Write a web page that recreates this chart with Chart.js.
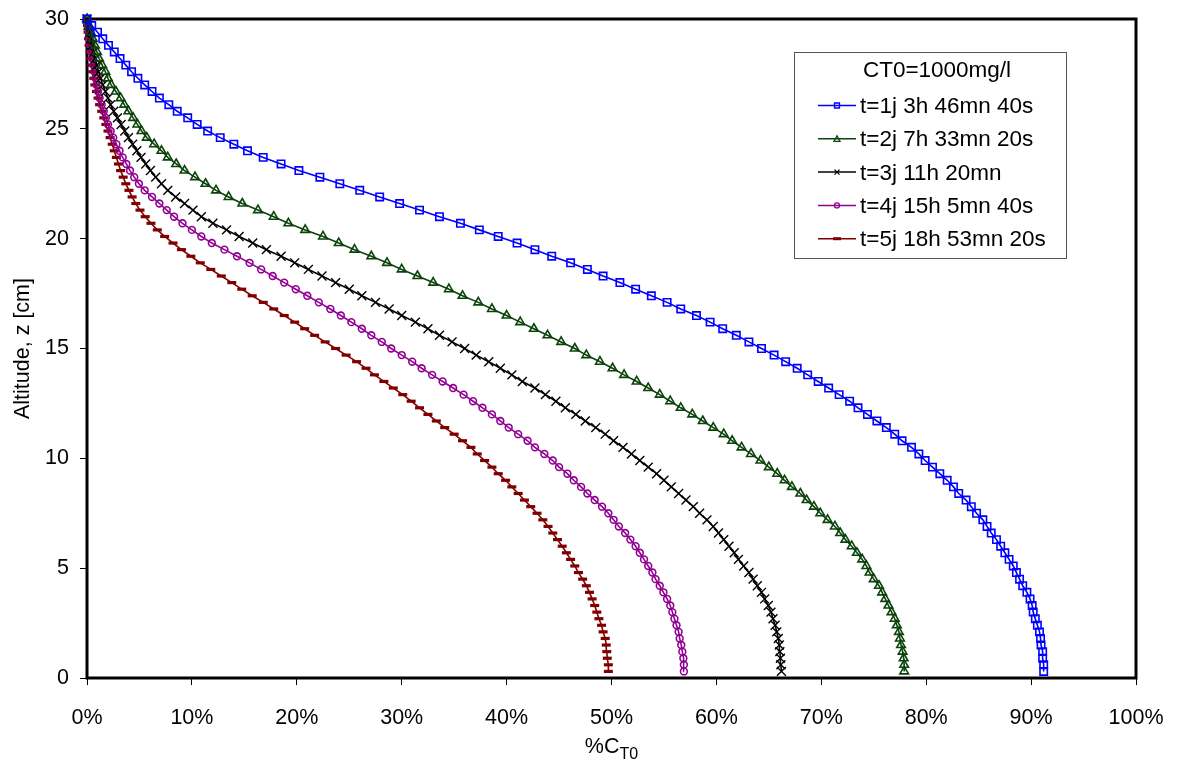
<!DOCTYPE html>
<html>
<head>
<meta charset="utf-8">
<script src="https://cdn.jsdelivr.net/npm/chart.js@4.4.1/dist/chart.umd.min.js"></script>
<style>
  html, body { margin: 0; padding: 0; background: #fff; }
</style>
</head>
<body>
<canvas id="chart" width="1178" height="773"></canvas>
<script>
// altitude z [cm] of each computed point (same grid for every curve)
const altitudes = [
  0.3, 0.6, 0.9, 1.2, 1.5, 1.8, 2.1, 2.4, 2.7, 3.0,
  3.3, 3.6, 3.9, 4.2, 4.5, 4.8, 5.1, 5.4, 5.7, 6.0,
  6.3, 6.6, 6.9, 7.2, 7.5, 7.8, 8.1, 8.4, 8.7, 9.0,
  9.3, 9.6, 9.9, 10.2, 10.5, 10.8, 11.1, 11.4, 11.7, 12.0,
  12.3, 12.6, 12.9, 13.2, 13.5, 13.8, 14.1, 14.4, 14.7, 15.0,
  15.3, 15.6, 15.9, 16.2, 16.5, 16.8, 17.1, 17.4, 17.7, 18.0,
  18.3, 18.6, 18.9, 19.2, 19.5, 19.8, 20.1, 20.4, 20.7, 21.0,
  21.3, 21.6, 21.9, 22.2, 22.5, 22.8, 23.1, 23.4, 23.7, 24.0,
  24.3, 24.6, 24.9, 25.2, 25.5, 25.8, 26.1, 26.4, 26.7, 27.0,
  27.3, 27.6, 27.9, 28.2, 28.5, 28.8, 29.1, 29.4, 29.7, 30.0
];

// %CT0 for each altitude above
const t1 = [
  91.2, 91.2, 91.1, 91.1, 90.95, 90.9, 90.8, 90.6, 90.4, 90.2,
  90.1, 89.9, 89.6, 89.2, 88.9, 88.6, 88.3, 87.9, 87.5, 87.1,
  86.7, 86.2, 85.8, 85.4, 84.8, 84.3, 83.8, 83.1, 82.6, 82.0,
  81.3, 80.6, 79.9, 79.3, 78.6, 77.7, 77.0, 76.2, 75.3, 74.4,
  73.5, 72.7, 71.7, 70.7, 69.7, 68.7, 67.7, 66.6, 65.5, 64.3,
  63.1, 61.9, 60.6, 59.4, 58.1, 56.6, 55.3, 53.8, 52.3, 50.8,
  49.2, 47.7, 46.1, 44.3, 42.7, 41.0, 39.2, 37.4, 35.6, 33.6,
  31.7, 29.8, 27.9, 26.0, 24.1, 22.2, 20.2, 18.5, 16.8, 15.3,
  14.0, 12.7, 11.5, 10.5, 9.6, 8.6, 7.8, 6.9, 6.2, 5.5,
  4.85, 4.25, 3.7, 3.15, 2.6, 2.05, 1.5, 1.0, 0.45, 0.0
];
const t2 = [
  77.9, 77.9, 77.85, 77.75, 77.6, 77.5, 77.4, 77.2, 77.0, 76.7,
  76.4, 76.1, 75.8, 75.5, 75.0, 74.6, 74.3, 73.9, 73.4, 72.9,
  72.3, 71.8, 71.3, 70.6, 69.9, 69.3, 68.6, 68.0, 67.2, 66.5,
  65.8, 65.0, 64.2, 63.3, 62.4, 61.5, 60.7, 59.7, 58.7, 57.7,
  56.6, 55.6, 54.6, 53.5, 52.4, 51.2, 50.1, 48.9, 47.6, 46.5,
  45.2, 43.9, 42.6, 41.3, 40.0, 38.6, 37.3, 35.8, 34.5, 33.0,
  31.5, 30.0, 28.6, 27.1, 25.5, 24.0, 22.5, 20.8, 19.2, 17.8,
  16.3, 14.8, 13.5, 12.3, 11.3, 10.3, 9.3, 8.5, 7.7, 7.1,
  6.4, 5.7, 5.2, 4.8, 4.4, 3.95, 3.55, 3.2, 2.75, 2.3,
  2.0, 1.75, 1.45, 1.15, 0.95, 0.75, 0.55, 0.35, 0.2, 0.0
];
const t3 = [
  66.2, 66.15, 66.1, 66.05, 66.0, 65.9, 65.75, 65.6, 65.4, 65.2,
  64.95, 64.6, 64.3, 63.9, 63.5, 63.1, 62.6, 62.1, 61.7, 61.2,
  60.7, 60.2, 59.7, 59.1, 58.4, 57.8, 57.1, 56.4, 55.7, 55.0,
  54.3, 53.5, 52.7, 51.9, 51.1, 50.2, 49.4, 48.5, 47.5, 46.6,
  45.6, 44.7, 43.7, 42.7, 41.5, 40.5, 39.4, 38.3, 37.1, 36.0,
  34.8, 33.6, 32.5, 31.3, 30.0, 28.8, 27.5, 26.2, 25.0, 23.7,
  22.4, 21.1, 19.8, 18.5, 17.1, 15.8, 14.5, 13.3, 12.0, 10.9,
  10.1, 9.3, 8.45, 7.7, 7.1, 6.55, 6.05, 5.6, 5.15, 4.75,
  4.35, 3.95, 3.6, 3.25, 2.9, 2.55, 2.25, 2.0, 1.75, 1.5,
  1.3, 1.1, 0.95, 0.8, 0.65, 0.5, 0.35, 0.25, 0.1, 0.0
];
const t4 = [
  56.9, 56.9, 56.85, 56.75, 56.65, 56.5, 56.4, 56.2, 56.0, 55.8,
  55.6, 55.3, 54.95, 54.6, 54.2, 53.9, 53.5, 53.1, 52.7, 52.3,
  51.8, 51.3, 50.7, 50.2, 49.7, 49.1, 48.4, 47.7, 47.1, 46.4,
  45.8, 45.0, 44.4, 43.6, 42.7, 42.0, 41.1, 40.2, 39.4, 38.6,
  37.7, 36.8, 35.9, 34.9, 33.9, 32.9, 31.9, 31.0, 30.0, 29.0,
  28.1, 27.1, 26.2, 25.2, 24.2, 23.2, 22.1, 21.0, 19.9, 18.8,
  17.7, 16.6, 15.5, 14.3, 13.1, 11.9, 10.9, 10.0, 9.1, 8.3,
  7.6, 6.9, 6.2, 5.5, 4.95, 4.5, 4.1, 3.75, 3.4, 3.1,
  2.8, 2.5, 2.25, 2.0, 1.8, 1.6, 1.4, 1.2, 1.05, 0.9,
  0.8, 0.7, 0.6, 0.5, 0.4, 0.3, 0.25, 0.15, 0.1, 0.0
];
const t5 = [
  49.7, 49.7, 49.6, 49.55, 49.5, 49.4, 49.2, 49.05, 48.8, 48.6,
  48.4, 48.15, 47.9, 47.6, 47.25, 46.85, 46.5, 46.1, 45.7, 45.3,
  44.85, 44.4, 43.95, 43.45, 42.9, 42.3, 41.7, 41.1, 40.5, 39.9,
  39.2, 38.6, 37.9, 37.2, 36.6, 35.8, 35.0, 34.1, 33.3, 32.5,
  31.7, 30.9, 30.1, 29.2, 28.3, 27.4, 26.6, 25.7, 24.7, 23.7,
  22.7, 21.7, 20.75, 19.8, 18.8, 17.8, 16.8, 15.75, 14.75, 13.8,
  12.8, 11.8, 10.8, 9.9, 9.0, 8.2, 7.4, 6.7, 6.1, 5.55,
  5.05, 4.65, 4.3, 4.0, 3.7, 3.45, 3.2, 3.0, 2.8, 2.6,
  2.4, 2.2, 2.0, 1.8, 1.6, 1.4, 1.2, 1.05, 0.9, 0.75,
  0.65, 0.55, 0.45, 0.35, 0.3, 0.2, 0.15, 0.1, 0.05, 0.0
];

const seriesLabels = [
  't=1j 3h 46mn 40s',
  't=2j 7h 33mn 20s',
  't=3j 11h 20mn',
  't=4j 15h 5mn 40s',
  't=5j 18h 53mn 20s'
];
const legendTitle = 'CT0=1000mg/l';
const xTitle = ['%C', 'T0'];
const yTitle = 'Altitude, z [cm]';

const FONT = '"Liberation Sans", Arial, Helvetica, sans-serif';
Chart.defaults.font.family = FONT;
Chart.defaults.color = '#000';

const looks = [
  { color: '#0000ff', point: 'rect', radius: 5.2, pw: 1.6 },
  { color: '#0b430b', point: 'triangle', radius: 5, pw: 1.6 },
  { color: '#000000', point: 'crossRot', radius: 6.3, pw: 1.4 },
  { color: '#920092', point: 'circle', radius: 3.4, pw: 1.6 },
  { color: '#800000', point: 'line', radius: 4.5, pw: 3.2 }
];

const allSeries = [t1, t2, t3, t4, t5];
const datasets = allSeries.map((vals, i) => ({
  label: seriesLabels[i],
  data: vals.map((v, k) => ({ x: v, y: altitudes[k] })),
  showLine: true,
  borderColor: looks[i].color,
  borderWidth: 1.6,
  backgroundColor: 'rgba(0,0,0,0)',
  pointStyle: looks[i].point,
  pointRadius: looks[i].radius,
  pointBorderWidth: looks[i].pw,
  pointBorderColor: looks[i].color,
  pointBackgroundColor: 'rgba(0,0,0,0)',
  tension: 0,
  clip: false
}));

// thick box round the plot, like the excel plot area border
const framePlugin = {
  id: 'frame',
  beforeDatasetsDraw(chart) {
    const { ctx, chartArea: a } = chart;
    ctx.save();
    ctx.strokeStyle = '#000';
    ctx.lineWidth = 3;
    ctx.strokeRect(a.left, a.top, a.right - a.left, a.bottom - a.top);
    ctx.restore();
  }
};

function legendMarker(ctx, style, x, y) {
  ctx.beginPath();
  if (style === 'rect') {
    ctx.rect(x - 2.5, y - 2.5, 5, 5);
  } else if (style === 'triangle') {
    ctx.moveTo(x, y - 3); ctx.lineTo(x + 3, y + 2.5); ctx.lineTo(x - 3, y + 2.5); ctx.closePath();
  } else if (style === 'crossRot') {
    ctx.moveTo(x - 2.5, y - 2.5); ctx.lineTo(x + 2.5, y + 2.5);
    ctx.moveTo(x + 2.5, y - 2.5); ctx.lineTo(x - 2.5, y + 2.5);
  } else if (style === 'circle') {
    ctx.arc(x, y, 2.5, 0, Math.PI * 2);
  } else if (style === 'line') {
    ctx.moveTo(x - 4, y); ctx.lineTo(x + 4, y);
  }
  ctx.stroke();
}

const legendPlugin = {
  id: 'boxLegend',
  afterDatasetsDraw(chart) {
    const ctx = chart.ctx;
    ctx.save();
    ctx.fillStyle = '#fff';
    ctx.fillRect(794, 52, 272, 206);
    ctx.strokeStyle = '#555';
    ctx.lineWidth = 1;
    ctx.strokeRect(794.5, 52.5, 272, 206);

    ctx.fillStyle = '#000';
    ctx.font = '22.5px ' + FONT;
    ctx.textBaseline = 'alphabetic';
    ctx.textAlign = 'center';
    ctx.fillText(legendTitle, 937, 77);

    ctx.textAlign = 'left';
    chart.data.datasets.forEach((ds, i) => {
      const base = 113 + i * 33.3;
      const ly = base - 7.5;
      ctx.strokeStyle = ds.borderColor;
      ctx.lineWidth = 1.5;
      ctx.beginPath();
      ctx.moveTo(818, ly);
      ctx.lineTo(856, ly);
      ctx.stroke();
      ctx.lineWidth = looks[i].point === 'line' ? 3 : 1.3;
      legendMarker(ctx, looks[i].point, 837, ly);
      ctx.fillStyle = '#000';
      ctx.fillText(ds.label, 860, base);
    });
    ctx.restore();
  }
};

// x title with the T0 subscript
const xTitlePlugin = {
  id: 'xTitle',
  afterDraw(chart) {
    const { ctx, chartArea: a } = chart;
    ctx.save();
    ctx.fillStyle = '#000';
    ctx.textBaseline = 'alphabetic';
    ctx.textAlign = 'left';
    ctx.font = '21.5px ' + FONT;
    const w1 = ctx.measureText(xTitle[0]).width;
    ctx.font = '16px ' + FONT;
    const w2 = ctx.measureText(xTitle[1]).width;
    const x0 = (a.left + a.right) / 2 - (w1 + w2) / 2;
    ctx.font = '21.5px ' + FONT;
    ctx.fillText(xTitle[0], x0, 753);
    ctx.font = '16px ' + FONT;
    ctx.fillText(xTitle[1], x0 + w1, 759);
    ctx.restore();
  }
};

const tickFont = { size: 21.5 };

new Chart(document.getElementById('chart'), {
  type: 'scatter',
  data: { datasets },
  options: {
    responsive: false,
    animation: false,
    layout: { padding: { top: 19, right: 42, left: 0, bottom: 0 } },
    plugins: {
      legend: { display: false },
      tooltip: { enabled: false }
    },
    scales: {
      x: {
        type: 'linear',
        min: 0,
        max: 100,
        border: { display: false },
        grid: { drawOnChartArea: false, drawTicks: true, tickLength: 7, tickColor: '#000', tickWidth: 1 },
        ticks: { stepSize: 10, callback: v => v + '%', color: '#000', font: tickFont, padding: 20, maxRotation: 0 },
        afterFit: s => { s.height = 95; s.paddingLeft = 0; s.paddingRight = 0; }
      },
      y: {
        type: 'linear',
        min: 0,
        max: 30,
        border: { display: false },
        grid: { drawOnChartArea: false, drawTicks: true, tickLength: 7, tickColor: '#000', tickWidth: 1 },
        ticks: { stepSize: 5, color: '#000', font: tickFont, padding: 11 },
        title: { display: true, text: yTitle, color: '#000', font: { size: 21.5 }, padding: { top: 10, bottom: 0 } },
        afterFit: s => { s.width = 87; s.paddingTop = 0; s.paddingBottom = 0; }
      }
    }
  },
  plugins: [framePlugin, legendPlugin, xTitlePlugin]
});
</script>
</body>
</html>
